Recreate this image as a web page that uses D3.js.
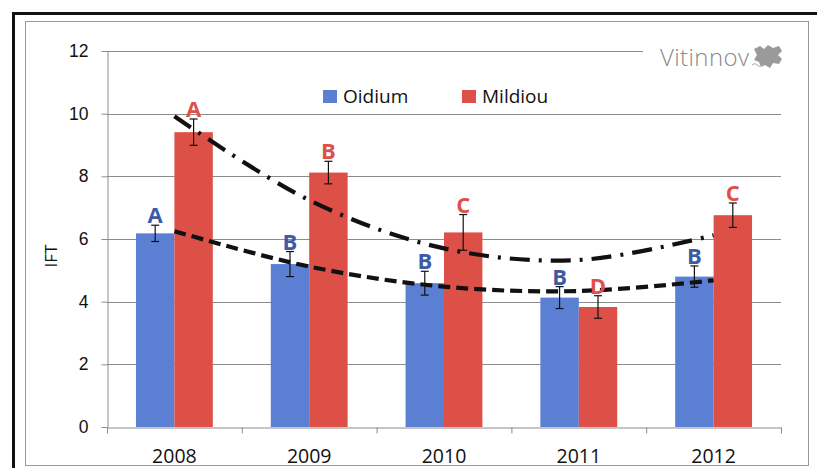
<!DOCTYPE html>
<meta charset="utf-8">
<style>
    body { margin: 0; background: #fff; }
    svg { display: block; font-family: "Open Sans", "Noto Sans", sans-serif; }
    .grid line { stroke: #8c8c8c; stroke-width: 1; }
    .axis path, .axis line { stroke: #8c8c8c; }
    .axis text { fill: #111; }
    .bar.oidium { fill: #5a7fd3; }
    .bar.mildiou { fill: #dd5048; }
    .err { stroke: #111; stroke-width: 1.2; }
    .trend { fill: none; stroke: #111; stroke-width: 4.2; }
    .letter { font-weight: bold; text-anchor: middle; }
</style>
<body>
<script src="https://cdn.jsdelivr.net/npm/d3@7"></script>
<script>

    var years = ["2008", "2009", "2010", "2011", "2012"];
    var series = ["Oidium", "Mildiou"];

    var oidium = [6.18, 5.2, 4.59, 4.13, 4.8];
    var oidiumErr = [0.26, 0.4, 0.38, 0.35, 0.34];
    var oidiumLetters = ["A", "B", "B", "B", "B"];

    var mildiou = [9.41, 8.12, 6.21, 3.83, 6.76];
    var mildiouErr = [0.42, 0.36, 0.57, 0.36, 0.39];
    var mildiouLetters = ["A", "B", "C", "D", "C"];

    // trend curves, one value per year
    var oidiumTrend = [6.25, 5.12, 4.48, 4.34, 4.68];
    var mildiouTrend = [9.92, 7.24, 5.7, 5.33, 6.12];

    var yTicks = [0, 2, 4, 6, 8, 10, 12];

    var W = 817, H = 468;
    var plotL = 107, plotR = 781, plotT = 51, plotB = 427;

    var svg = d3.select("body").append("svg")
            .attr("width", W)
            .attr("height", H);

    // frame
    svg.append("rect")
            .attr("x", 25.5).attr("y", 21.5)
            .attr("width", 783).attr("height", 444)
            .attr("fill", "#fff")
            .attr("stroke", "#9a9a9a");
    svg.append("path")
            .attr("d", "M13.5," + H + "V13.5H" + W)
            .attr("fill", "none")
            .attr("stroke", "#111")
            .attr("stroke-width", 3);

    var x = d3.scaleBand()
            .domain(years)
            .range([plotL, plotR])
            .paddingInner(0.43)
            .paddingOuter(0.215);

    var x1 = d3.scaleBand()
            .domain(series)
            .range([0, x.bandwidth()]);

    var xEdge = d3.scaleLinear()
            .domain([0, years.length])
            .range([plotL, plotR]);

    var y = d3.scaleLinear()
            .domain([0, 12])
            .range([plotB, plotT]);

    // gridlines
    svg.append("g")
            .attr("class", "grid")
            .selectAll("line")
            .data(yTicks.slice(1))
            .enter().append("line")
            .attr("x1", plotL)
            .attr("x2", function(d) { return d === 12 ? 643 : plotR; })
            .attr("y1", function(d) { return Math.round(y(d)) + 0.5; })
            .attr("y2", function(d) { return Math.round(y(d)) + 0.5; });

    var yAxis = d3.axisLeft(y)
            .tickValues(yTicks)
            .tickSize(6)
            .tickSizeOuter(0)
            .tickPadding(13);

    svg.append("g")
            .attr("class", "axis y")
            .attr("transform", "translate(" + (plotL + 0.5) + ",0)")
            .call(yAxis)
            .call(function(g) { g.selectAll("text").style("font-size", "17.5px"); });

    // x axis: tick marks between categories, labels centred
    svg.append("g")
            .attr("class", "axis x")
            .attr("transform", "translate(0," + (plotB + 0.5) + ")")
            .call(d3.axisBottom(xEdge).tickValues(d3.range(years.length + 1)).tickFormat("").tickSize(6).tickSizeOuter(0));

    svg.append("g")
            .attr("class", "axis xl")
            .selectAll("text")
            .data(years)
            .enter().append("text")
            .attr("x", function(d) { return x(d) + x.bandwidth() / 2; })
            .attr("y", 463)
            .attr("text-anchor", "middle")
            .style("font-size", "19.5px")
            .text(function(d) { return d; });

    svg.append("text")
            .attr("transform", "translate(57,256) rotate(-90)")
            .attr("text-anchor", "middle")
            .style("font-size", "17px")
            .attr("fill", "#111")
            .text("IFT");

    var groups = [
        { key: "Oidium", cls: "oidium", values: oidium, err: oidiumErr, letters: oidiumLetters, color: "#3c5aa6" },
        { key: "Mildiou", cls: "mildiou", values: mildiou, err: mildiouErr, letters: mildiouLetters, color: "#e0504a" }
    ];

    groups.forEach(function(s) {
        var g = svg.append("g");
        s.cx = function(d, i) { return x(years[i]) + x1(s.key) + x1.bandwidth() / 2; };

        g.selectAll("rect")
                .data(s.values)
                .enter().append("rect")
                .attr("class", "bar " + s.cls)
                .attr("x", function(d, i) { return x(years[i]) + x1(s.key); })
                .attr("width", x1.bandwidth())
                .attr("y", function(d) { return y(d); })
                .attr("height", function(d) { return y(0) - y(d); });
    });

    groups.forEach(function(s) {
        var e = svg.append("g").selectAll("g")
                .data(s.values)
                .enter().append("g");
        e.append("line")
                .attr("class", "err")
                .attr("x1", s.cx).attr("x2", s.cx)
                .attr("y1", function(d, i) { return y(d + s.err[i]); })
                .attr("y2", function(d, i) { return y(d - s.err[i]); });
        [1, -1].forEach(function(sign) {
            e.append("line")
                    .attr("class", "err")
                    .attr("x1", function(d, i) { return s.cx(d, i) - 4; })
                    .attr("x2", function(d, i) { return s.cx(d, i) + 4; })
                    .attr("y1", function(d, i) { return y(d + sign * s.err[i]); })
                    .attr("y2", function(d, i) { return y(d + sign * s.err[i]); });
        });
    });

    // trend lines
    var line = d3.line()
            .x(function(d, i) { return x(years[i]) + x.bandwidth() / 2; })
            .y(function(d) { return y(d); })
            .curve(d3.curveCatmullRom);

    svg.append("path")
            .datum(oidiumTrend)
            .attr("class", "trend")
            .attr("stroke-dasharray", "12,6")
            .attr("d", line);

    svg.append("path")
            .datum(mildiouTrend)
            .attr("class", "trend")
            .attr("stroke-dasharray", "20,9,3,9")
            .attr("d", line);

    // significance letters
    groups.forEach(function(s) {
        svg.append("g")
                .selectAll("text")
                .data(s.letters)
                .enter().append("text")
                .attr("class", "letter")
                .attr("x", function(d, i) { return s.cx(s.values[i], i); })
                .attr("y", function(d, i) { return y(s.values[i] + s.err[i]) - 2; })
                .attr("fill", s.color)
                .style("font-size", "22px")
                .text(function(d) { return d; });
    });

    // legend
    var legend = svg.append("g")
            .selectAll("g")
            .data(groups)
            .enter().append("g")
            .attr("transform", function(d, i) { return "translate(" + [323, 462][i] + ",90)"; });
    legend.append("rect")
            .attr("width", 14).attr("height", 13)
            .attr("class", function(d) { return "bar " + d.cls; });
    legend.append("text")
            .attr("x", 20).attr("y", 13)
            .style("font-size", "19px")
            .attr("fill", "#111")
            .text(function(d) { return d.key; });

    // Vitinnov logo
    var logo = svg.append("g").attr("transform", "translate(660,66)");
    logo.append("text")
            .style("font-size", "24px")
            .style("font-weight", 300)
            .attr("fill", "#8a8a8a")
            .attr("textLength", 89)
            .text("Vitinnov");
    logo.append("path")
            .attr("transform", "translate(92,-21)")
            .attr("fill", "#9a9a9a")
            .attr("d", "M2,4 L8,1 L12,4 L16,0 L21,3 L27,1 L30,6 L26,10 L30,14 L27,19 L21,18 L18,23 L13,20 L9,22 L7,17 L2,15 L5,10 Z");
    logo.append("path")
            .attr("transform", "translate(92,-21)")
            .attr("fill", "none")
            .attr("stroke", "#aaa")
            .attr("d", "M0,20 q3,-3 5,0 q2,3 5,0");

</script>
